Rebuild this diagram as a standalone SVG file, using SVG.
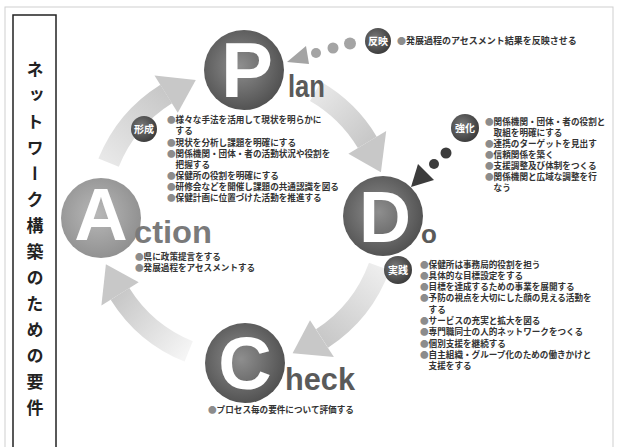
<svg xmlns="http://www.w3.org/2000/svg" width="619" height="447" viewBox="0 0 619 447">
<style>
.t{font-family:"Noto Sans CJK JP","Noto Sans CJK SC",sans-serif;font-size:8.6px;font-weight:bold;fill:#333}
.b{fill:#8c8c8c}
.big{font-family:"Liberation Sans",Arial,sans-serif;font-weight:bold;fill:#fff;text-anchor:middle}
.word{font-family:"Liberation Sans",Arial,sans-serif;font-weight:bold;fill:#5a5a5a}
.lbl{font-family:"Noto Sans CJK JP",sans-serif;font-size:10px;font-weight:bold;fill:#fff;text-anchor:middle}
.band{fill:none;stroke-width:22}
.head{fill:#c8c8c8}
</style>
<defs>
<radialGradient id="gDark" cx="0.45" cy="0.45" r="0.6">
<stop offset="0" stop-color="#8e8e8e"/><stop offset="1" stop-color="#4e4e4e"/>
</radialGradient>
<radialGradient id="gLight" cx="0.45" cy="0.45" r="0.6">
<stop offset="0" stop-color="#b8b8b8"/><stop offset="1" stop-color="#8e8e8e"/>
</radialGradient>
<radialGradient id="gLbl" cx="0.4" cy="0.4" r="0.6">
<stop offset="0" stop-color="#7a7a7a"/><stop offset="1" stop-color="#3e3e3e"/>
</radialGradient>
<linearGradient id="a1" gradientUnits="userSpaceOnUse" x1="315.5" y1="91.4" x2="367.3" y2="142.3"><stop offset="0" stop-color="#e8e8e8"/><stop offset="1" stop-color="#c8c8c8"/></linearGradient>
<linearGradient id="a2" gradientUnits="userSpaceOnUse" x1="379.3" y1="266.6" x2="322" y2="338.6"><stop offset="0" stop-color="#eeeeee"/><stop offset="1" stop-color="#c8c8c8"/></linearGradient>
<linearGradient id="a3" gradientUnits="userSpaceOnUse" x1="188.7" y1="351.4" x2="120" y2="293.8"><stop offset="0" stop-color="#f5f5f5"/><stop offset="1" stop-color="#c8c8c8"/></linearGradient>
<linearGradient id="a4" gradientUnits="userSpaceOnUse" x1="108.6" y1="162.7" x2="166.2" y2="94"><stop offset="0" stop-color="#e8e8e8"/><stop offset="1" stop-color="#c8c8c8"/></linearGradient>
</defs>
<rect x="0" y="0" width="619" height="447" fill="#fff"/>
<rect x="5" y="7" width="608" height="450" fill="none" stroke="#cfcfcf" stroke-width="1"/>

<g id="title">
<rect x="13" y="15" width="43" height="440" fill="#fff" stroke="#222" stroke-width="1.5"/>
<text x="35" y="61.5" writing-mode="vertical-rl" letter-spacing="9" style="font-family:'Noto Sans CJK JP',sans-serif;font-size:17px;font-weight:bold;fill:#222">ネットワーク構築のための要件</text>
</g>

<g id="connectors">
<path class="band" stroke="url(#a1)" d="M315.5 91.4A145 145 0 0 1 367.3 142.3"/>
<polygon class="head" points="348.4,153.7 386.2,131 380.9,172.2"/>
<path class="band" stroke="url(#a2)" d="M379.3 266.6A145 145 0 0 1 322 338.6"/>
<polygon class="head" points="310,320.2 333.9,357.1 292.6,353.3"/>
<path class="band" stroke="url(#a3)" d="M188.7 351.4A145 145 0 0 1 120 293.8"/>
<polygon class="head" points="138.7,282.2 101.4,305.5 105.9,264.2"/>
<path class="band" stroke="url(#a4)" d="M108.6 162.7A145 145 0 0 1 166.2 94"/>
<polygon class="head" points="177.8,112.7 154.5,75.4 195.8,79.9"/>
<g fill="#a4a4a4">
<circle cx="350" cy="43.5" r="6"/><circle cx="333" cy="48" r="5.5"/><circle cx="316" cy="53" r="5"/>
<polygon points="287,62 306,46 309,64"/>
</g>
<g fill="#3c3c3c">
<circle cx="446" cy="153" r="5.5"/><circle cx="434" cy="164" r="5"/>
<polygon points="411,187 418,164 434,180"/>
</g>
</g>

<g id="feedback">
<circle cx="378" cy="41" r="13" fill="url(#gLbl)"/>
<text class="lbl" x="378" y="44.5">反映</text>
<text class="t" x="397" y="43.5" style="font-size:9px"><tspan class="b">●</tspan>発展過程のアセスメント結果を反映させる</text>
</g>

<g id="plan">
<circle cx="244" cy="70" r="40" fill="url(#gDark)"/>
<text class="big" x="247" y="97" font-size="78">P</text>
<text class="word" x="288" y="97" font-size="31" textLength="37" lengthAdjust="spacingAndGlyphs">lan</text>
<circle cx="144" cy="129" r="13" fill="url(#gLbl)"/>
<text class="lbl" x="144" y="132.5">形成</text>
<text class="t" x="167" y="123.3"><tspan class="b">●</tspan>様々な手法を活用して現状を明らかに</text>
<text class="t" x="175.6" y="134.4">する</text>
<text class="t" x="167" y="145.5"><tspan class="b">●</tspan>現状を分析し課題を明確にする</text>
<text class="t" x="167" y="156.6"><tspan class="b">●</tspan>関係機関・団体・者の活動状況や役割を</text>
<text class="t" x="175.6" y="167.7">把握する</text>
<text class="t" x="167" y="178.8"><tspan class="b">●</tspan>保健所の役割を明確にする</text>
<text class="t" x="167" y="189.9"><tspan class="b">●</tspan>研修会などを開催し課題の共通認識を図る</text>
<text class="t" x="167" y="201"><tspan class="b">●</tspan>保健計画に位置づけた活動を推進する</text>
</g>

<g id="strengthen">
<circle cx="465" cy="128" r="14" fill="url(#gLbl)"/>
<text class="lbl" x="465" y="131.5">強化</text>
<text class="t" x="485" y="125"><tspan class="b">●</tspan>関係機関・団体・者の役割と</text>
<text class="t" x="493.6" y="136">取組を明確にする</text>
<text class="t" x="485" y="147"><tspan class="b">●</tspan>連携のターゲットを見出す</text>
<text class="t" x="485" y="158"><tspan class="b">●</tspan>信頼関係を築く</text>
<text class="t" x="485" y="169"><tspan class="b">●</tspan>支援調整及び体制をつくる</text>
<text class="t" x="485" y="180"><tspan class="b">●</tspan>関係機関と広域な調整を行</text>
<text class="t" x="493.6" y="191">なう</text>
</g>

<g id="do">
<circle cx="383" cy="216" r="40" fill="url(#gDark)"/>
<text class="big" x="385" y="242" font-size="72">D</text>
<text class="word" x="421" y="243" font-size="26">o</text>
<circle cx="398" cy="270" r="14" fill="url(#gLbl)"/>
<text class="lbl" x="398" y="273.5">実践</text>
<text class="t" x="420" y="267.5"><tspan class="b">●</tspan>保健所は事務局的役割を担う</text>
<text class="t" x="420" y="278.8"><tspan class="b">●</tspan>具体的な目標設定をする</text>
<text class="t" x="420" y="290.1"><tspan class="b">●</tspan>目標を達成するための事業を展開する</text>
<text class="t" x="420" y="301.4"><tspan class="b">●</tspan>予防の視点を大切にした顔の見える活動を</text>
<text class="t" x="428.6" y="312.7">する</text>
<text class="t" x="420" y="324"><tspan class="b">●</tspan>サービスの充実と拡大を図る</text>
<text class="t" x="420" y="335.3"><tspan class="b">●</tspan>専門職同士の人的ネットワークをつくる</text>
<text class="t" x="420" y="346.6"><tspan class="b">●</tspan>個別支援を継続する</text>
<text class="t" x="420" y="357.9"><tspan class="b">●</tspan>自主組織・グループ化のための働きかけと</text>
<text class="t" x="428.6" y="369.2">支援をする</text>
</g>

<g id="check">
<circle cx="245" cy="363" r="40" fill="url(#gDark)"/>
<text class="big" x="245" y="389" font-size="74">C</text>
<text class="word" x="285" y="390" font-size="31" textLength="70" lengthAdjust="spacingAndGlyphs">heck</text>
<text class="t" x="208" y="413"><tspan class="b">●</tspan>プロセス毎の要件について評価する</text>
</g>

<g id="action">
<circle cx="101" cy="218" r="40" fill="url(#gLight)"/>
<text class="big" x="101" y="240" font-size="74">A</text>
<text class="word" x="134" y="243" font-size="31" textLength="78" lengthAdjust="spacingAndGlyphs" style="fill:#7a7a7a">ction</text>
<text class="t" x="135" y="259.5"><tspan class="b">●</tspan>県に政策提言をする</text>
<text class="t" x="135" y="270.5"><tspan class="b">●</tspan>発展過程をアセスメントする</text>
</g>
</svg>
